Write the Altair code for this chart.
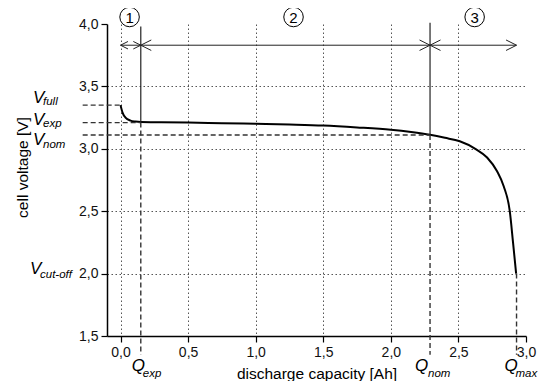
import altair as alt
import pandas as pd

# ---- data ----
capacity = [0.0, 0.015, 0.037, 0.074, 0.11, 0.15, 0.3, 0.5, 0.75, 1.0, 1.25, 1.5, 1.75,
            2.0, 2.15, 2.29, 2.4, 2.51, 2.625, 2.712, 2.786, 2.835, 2.88, 2.904, 2.927]
voltage = [3.35, 3.29, 3.25, 3.226, 3.218, 3.214, 3.212, 3.21, 3.205, 3.20, 3.194, 3.186, 3.171,
           3.152, 3.134, 3.112, 3.088, 3.06, 3.0, 2.93, 2.82, 2.70, 2.50, 2.25, 2.0]

Q_EXP, Q_NOM, Q_MAX = 0.15, 2.29, 2.93
V_FULL, V_EXP, V_NOM, V_CUT = 3.35, 3.21, 3.11, 2.0

x_ticks = [0.0, 0.25, 0.5, 0.75, 1.0, 1.25, 1.5, 1.75, 2.0, 2.25, 2.5, 2.75, 3.0]
y_ticks = [1.5, 1.75, 2.0, 2.25, 2.5, 2.75, 3.0, 3.25, 3.5, 3.75, 4.0]

region_names = ["1", "2", "3"]
region_starts = [0.0, Q_EXP, Q_NOM]
region_ends = [Q_EXP, Q_NOM, Q_MAX]
region_centres = [0.067, 1.28, 2.62]
arrow_level = 3.83
circle_level = 4.056
guide_left = -0.28
guide_bottom = 1.35
solid_tops = [3.98, 4.01]

FONT = "Liberation Sans"
xs = alt.Scale(domain=[-0.1, 3.0], nice=False, zero=False)
ys = alt.Scale(domain=[1.5, 4.0], nice=False, zero=False)

minor = "datum.value % 0.5 != 0"
lab = "datum.value % 0.5 == 0 ? replace(format(datum.value, '.1f'), '.', ',') : ''"

x_axis = alt.Axis(values=x_ticks, labelExpr=lab,
                  tickSize={"condition": {"test": minor, "value": 4}, "value": 6},
                  grid=True,
                  gridOpacity={"condition": {"test": minor + " || datum.value >= 3", "value": 0}, "value": 1},
                  gridDash=[1.5, 2.5], gridColor="#555", gridWidth=1,
                  domainColor="black", domainWidth=1.5, tickColor="black", tickWidth=1.2,
                  labelFont=FONT, labelFontSize=14, labelColor="#111", labelFlush=False,
                  labelPadding=3, title="discharge capacity [Ah]", titleFont=FONT,
                  titleFontSize=15.5, titleFontWeight="normal", titleColor="black", titlePadding=7)
y_axis = alt.Axis(values=y_ticks, labelExpr=lab,
                  tickSize={"condition": {"test": minor, "value": 4}, "value": 6},
                  grid=True,
                  gridOpacity={"condition": {"test": minor + " || datum.value >= 4 || datum.value <= 1.5", "value": 0}, "value": 1},
                  gridDash=[1.5, 2.5], gridColor="#555", gridWidth=1,
                  domainColor="black", domainWidth=1.5, tickColor="black", tickWidth=1.2,
                  labelFont=FONT, labelFontSize=14, labelColor="#111", labelFlush=False,
                  labelPadding=3, title="cell voltage [V]", titleFont=FONT,
                  titleFontSize=15.5, titleFontWeight="normal", titleColor="black",
                  titlePadding=48, titleY=143)

curve_df = pd.DataFrame({"q": capacity, "v": voltage})
curve = alt.Chart(curve_df).mark_line(color="black", strokeWidth=2, interpolate="monotone").encode(
    x=alt.X("q:Q", scale=xs, axis=x_axis),
    y=alt.Y("v:Q", scale=ys, axis=y_axis),
)

DASH = [5, 3]
hdash_df = pd.DataFrame({"v": [V_FULL, V_EXP, V_NOM], "x1": [guide_left] * 3,
                         "x2": [0.0, Q_EXP, Q_NOM]})
hdash = alt.Chart(hdash_df).mark_rule(color="#333", strokeWidth=1.4, strokeDash=DASH).encode(
    y="v:Q", x="x1:Q", x2="x2:Q")

vdash_df = pd.DataFrame({"q": [Q_EXP, Q_NOM, Q_MAX], "v1": [V_EXP, V_NOM, V_CUT],
                         "v2": [guide_bottom] * 3})
vdash = alt.Chart(vdash_df).mark_rule(color="#333", strokeWidth=1.4, strokeDash=DASH).encode(
    x="q:Q", y="v1:Q", y2="v2:Q")

vsolid_df = pd.DataFrame({"q": [Q_EXP, Q_NOM], "v1": solid_tops, "v2": [V_EXP, V_NOM]})
vsolid = alt.Chart(vsolid_df).mark_rule(color="#222", strokeWidth=1.2).encode(
    x="q:Q", y="v1:Q", y2="v2:Q")

region_df = pd.DataFrame({"name": region_names, "start": region_starts, "end": region_ends,
                          "centre": region_centres, "lvl": [arrow_level] * 3,
                          "top": [circle_level] * 3})
arrows = alt.Chart(region_df).mark_rule(color="#222", strokeWidth=1).encode(
    x="start:Q", x2="end:Q", y="lvl:Q")
head_left = alt.Chart(region_df).mark_point(shape="M2,-1L0,0L2,1", filled=False, color="#222",
                                           strokeWidth=1, opacity=1).encode(
    x="start:Q", y="lvl:Q",
    size=alt.condition("datum.name == '1'", alt.value(56), alt.value(110)))
head_right = alt.Chart(region_df).mark_point(shape="M-2,-1L0,0L-2,1", filled=False, color="#222",
                                            strokeWidth=1, opacity=1).encode(
    x="end:Q", y="lvl:Q",
    size=alt.condition("datum.name == '1'", alt.value(56), alt.value(110)))
circles = alt.Chart(region_df).mark_point(shape="circle", filled=False, color="black",
                                         strokeWidth=1, opacity=1, size=380).encode(
    x="centre:Q", y="top:Q")
circle_txt = alt.Chart(region_df).mark_text(font=FONT, fontSize=15, color="black",
                                           baseline="middle", align="center", dy=1).encode(
    x="centre:Q", y="top:Q", text="name:N")


def vlabel(main, sub, val, xpx, dy_main, dy_sub, sub_dx=10):
    df = pd.DataFrame({"v": [val]})
    a = alt.Chart(df).mark_text(text=main, font=FONT, fontSize=17, fontStyle="italic",
                                align="left", baseline="alphabetic", dy=dy_main,
                                color="black").encode(y="v:Q", x=alt.value(xpx))
    b = alt.Chart(df).mark_text(text=sub, font=FONT, fontSize=11.5, fontStyle="italic",
                                align="left", baseline="alphabetic", dy=dy_sub,
                                color="black").encode(y="v:Q", x=alt.value(xpx + sub_dx))
    return [a, b]


def qlabel(main, sub, val, dx_main, dx_sub):
    df = pd.DataFrame({"q": [val]})
    a = alt.Chart(df).mark_text(text=main, font=FONT, fontSize=17, fontStyle="italic",
                                align="left", baseline="alphabetic", dx=dx_main,
                                color="black").encode(x="q:Q", y=alt.value(347))
    b = alt.Chart(df).mark_text(text=sub, font=FONT, fontSize=11.5, fontStyle="italic",
                                align="left", baseline="alphabetic", dx=dx_sub,
                                color="black").encode(x="q:Q", y=alt.value(353))
    return [a, b]


labels = []
labels += vlabel("V", "full", V_FULL, -74, -2, 0)
labels += vlabel("V", "exp", V_EXP, -74, 2, 4)
labels += vlabel("V", "nom", V_NOM, -74, 10, 13)
labels += vlabel("V", "cut-off", V_CUT, -77, 0, 4)
labels += qlabel("Q", "exp", Q_EXP, -9, 2)
labels += qlabel("Q", "nom", Q_NOM, -15, -2)
labels += qlabel("Q", "max", Q_MAX, -12, -1)

chart = alt.layer(curve, hdash, vdash, vsolid, arrows, head_left, head_right, circles,
                  circle_txt, *labels).properties(
    width=419, height=312,
    padding={"left": 99, "top": 16, "right": 15, "bottom": 45},
    autosize=alt.AutoSizeParams(type="none"),
    background="white",
).configure_view(stroke=None)

chart.save("out.html", embed_options={"renderer": "svg", "actions": False})
